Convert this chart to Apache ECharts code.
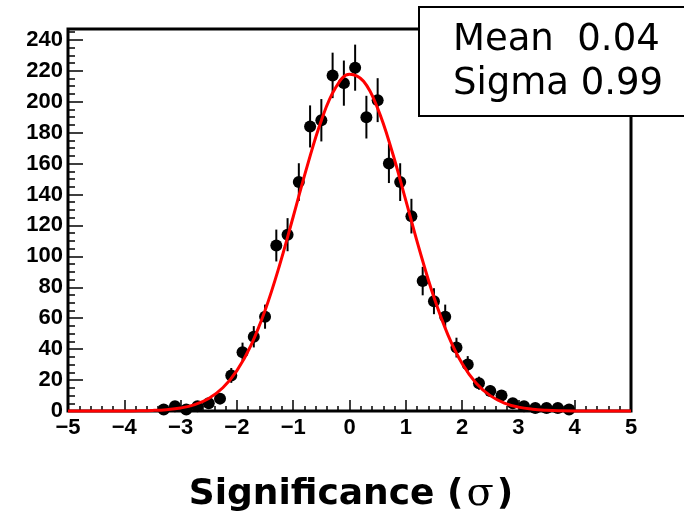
<!DOCTYPE html>
<html><head><meta charset="utf-8">
<script src="https://cdn.jsdelivr.net/npm/echarts@6/dist/echarts.min.js"></script>
<style>html,body{margin:0;padding:0;background:#fff}#c{width:684px;height:513px}</style>
</head><body><div id="c"></div>
<script>
const binCenters = [-3.3,-3.1,-2.9,-2.7,-2.5,-2.3,-2.1,-1.9,-1.7,-1.5,-1.3,-1.1,-0.9,-0.7,-0.5,-0.3,-0.1,0.1,0.3,0.5,0.7,0.9,1.1,1.3,1.5,1.7,1.9,2.1,2.3,2.5,2.7,2.9,3.1,3.3,3.5,3.7,3.9];
const counts = [1,3,1,3,5,8,23,38,48,61,107,114,148,184,188,217,212,222,190,201,160,148,126,84,71,61,41,30,18,13,10,5,3,2,2,2,1];
const errors = [1,1.7,1,1.7,2.2,2.8,4.8,6.2,6.9,7.8,10.3,10.7,12.2,13.6,13.7,14.7,14.6,14.9,13.8,14.2,12.6,12.2,11.2,9.2,8.4,7.8,6.4,5.5,4.2,3.6,3.2,2.2,1.7,1.4,1.4,1.4,1];
const curveX = [-5,-4.5,-4,-3.75,-3.5,-3.25,-3,-2.75,-2.5,-2.25,-2,-1.75,-1.5,-1.25,-1,-0.75,-0.5,-0.25,0,0.25,0.5,0.75,1,1.25,1.5,1.75,2,2.25,2.5,2.75,3,3.25,3.5,3.75,4,4.5,5];
const curveY = [0,0,0.05,0.14,0.36,0.87,1.95,4.11,8.11,15.0,26.1,42.5,65.0,93.3,125.6,158.5,187.9,208.8,217.8,213.2,195.7,168.6,136.2,103.3,73.5,49.1,30.7,18.0,9.95,5.14,2.50,1.14,0.49,0.19,0.07,0,0];
const xTickLabels = [-5,-4,-3,-2,-1,0,1,2,3,4,5];
const yTickLabels = [0,20,40,60,80,100,120,140,160,180,200,220,240];
const fitLines = ['Mean  0.04', 'Sigma 0.99'];
const axisTitleMain = 'Significance (';
const axisTitleSym = 'σ';
const axisTitleEnd = ')';

const yMinor = [];
for (let v = 0; v <= 245; v += 5) yMinor.push(v);

const chart = echarts.init(document.getElementById('c'), null, {renderer: 'canvas'});
const labelFont = {fontSize: 22, fontWeight: 'bold', fontFamily: 'Liberation Sans, Arial, sans-serif', color: '#000'};
chart.setOption({
  animation: false,
  backgroundColor: '#fff',
  grid: {left: 68, right: 53, top: 29, bottom: 102, show: true, borderColor: '#000', borderWidth: 3, backgroundColor: 'transparent'},
  xAxis: [{
    type: 'value', min: -5, max: 5, interval: 1, position: 'bottom',
    axisLine: {show: false, onZero: false},
    splitLine: {show: false},
    axisTick: {show: true, inside: true, length: 11, lineStyle: {color: '#000', width: 1.5}},
    minorTick: {show: true, splitNumber: 5, length: 5, lineStyle: {color: '#000', width: 1.5}},
    axisLabel: Object.assign({margin: 6, formatter: v => String(v).replace('-', '\u2212'), customValues: xTickLabels}, labelFont)
  }],
  yAxis: [{
    type: 'value', min: 0, max: 247, interval: 20, position: 'left',
    axisLine: {show: false, onZero: false},
    splitLine: {show: false},
    axisTick: {show: true, inside: true, length: 15, customValues: yTickLabels, lineStyle: {color: '#000', width: 1.5}},
    axisLabel: Object.assign({margin: 5, customValues: yTickLabels}, labelFont)
  }, {
    type: 'value', min: 0, max: 247, position: 'left',
    axisLine: {show: false, onZero: false},
    splitLine: {show: false},
    axisLabel: {show: false},
    axisTick: {show: true, inside: true, length: 7, customValues: yMinor, lineStyle: {color: '#000', width: 1.5}}
  }],
  series: [{
    type: 'custom', z: 2,
    data: binCenters.map((x, i) => [x, counts[i], errors[i]]),
    renderItem: (params, api) => {
      const x = api.value(0), v = api.value(1), e = api.value(2);
      const p1 = api.coord([x, v - e]);
      const p2 = api.coord([x, v + e]);
      return {type: 'line', shape: {x1: p1[0], y1: p1[1], x2: p2[0], y2: p2[1]}, style: {stroke: '#000', lineWidth: 2}};
    }
  }, {
    type: 'scatter', z: 3, symbol: 'circle', symbolSize: 12,
    itemStyle: {color: '#000', opacity: 1},
    data: binCenters.map((x, i) => [x, counts[i]])
  }, {
    type: 'line', z: 4, smooth: 0.4, showSymbol: false, clip: false,
    lineStyle: {color: '#ff0000', width: 3},
    data: curveX.map((x, i) => [x, curveY[i]])
  }],
  graphic: [{
    type: 'rect', z: 100,
    shape: {x: 419, y: 7, width: 290, height: 109},
    style: {fill: '#fff', stroke: '#000', lineWidth: 2}
  }, {
    type: 'text', z: 101, x: 453, y: 40,
    style: {text: fitLines[0], fontSize: 37, fontFamily: 'DejaVu Sans, Verdana, sans-serif', fill: '#000', verticalAlign: 'middle'}
  }, {
    type: 'text', z: 101, x: 453, y: 84,
    style: {text: fitLines[1], fontSize: 37, fontFamily: 'DejaVu Sans, Verdana, sans-serif', fill: '#000', verticalAlign: 'middle'}
  }, {
    type: 'text', z: 101, x: 351, y: 495,
    style: {
      text: '{a|' + axisTitleMain + '}{b|' + axisTitleSym + '}{a|' + axisTitleEnd + '}',
      align: 'center', verticalAlign: 'middle',
      rich: {
        a: {fontSize: 36, fontWeight: 'bold', fontFamily: 'DejaVu Sans, Verdana, sans-serif', fill: '#000', color: '#000'},
        b: {fontSize: 40, fontFamily: 'DejaVu Serif, serif', fill: '#000', color: '#000', padding: [0, 3, 0, 3]}
      }
    }
  }]
});
</script>
</body></html>
